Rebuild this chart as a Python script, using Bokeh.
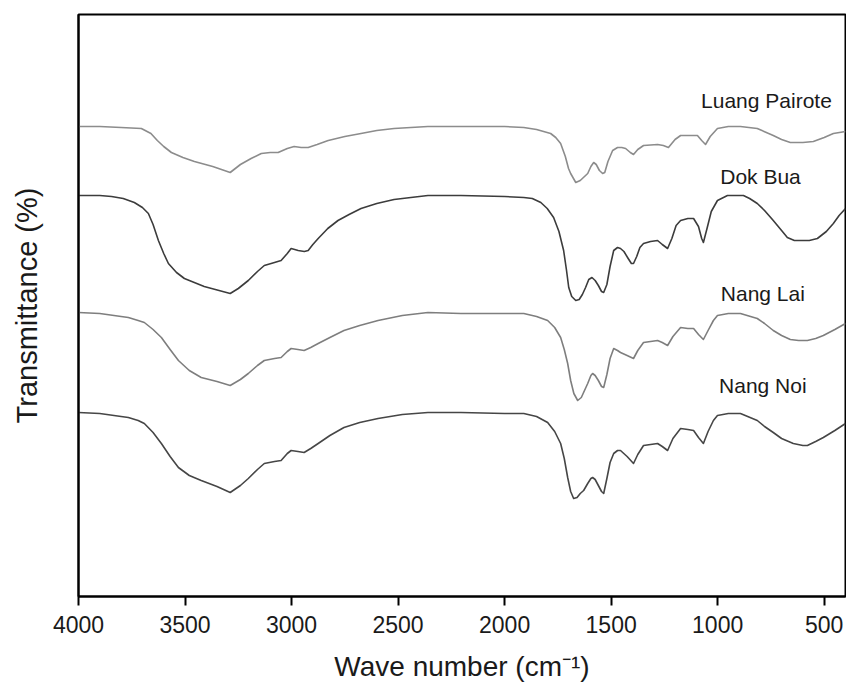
from bokeh.plotting import figure
from bokeh.models import Range1d, FixedTicker, ColumnDataSource
from bokeh.embed import file_html
from bokeh.resources import INLINE
from bokeh.core.properties import value

# Wave numbers (cm^-1) and transmittance (arbitrary units, curves offset)
lp_wn = [4000, 3900, 3800, 3705, 3660, 3630, 3600, 3564, 3510, 3456, 3370, 3288, 3240, 3190, 3142, 3100,
         3063, 3020, 2988, 2955, 2922, 2880, 2828, 2750, 2674, 2600, 2519, 2440, 2360, 2205, 2000, 1910,
         1850, 1784, 1760, 1737, 1715, 1700, 1690, 1666, 1645, 1625, 1610, 1595, 1582, 1570, 1555, 1540,
         1530, 1515, 1493, 1470, 1450, 1432, 1410, 1395, 1375, 1348, 1282, 1255, 1231, 1200, 1174, 1130,
         1095, 1075, 1057, 1035, 1001, 950, 893, 814, 739, 700, 659, 600, 551, 500, 457, 400]
lp_t = [470, 470, 469, 468, 463, 456, 450, 444, 439, 435, 430, 424, 432, 438, 443, 444,
        444, 448, 450, 449, 449, 452, 456, 460, 463, 466, 468, 469, 470, 470, 470, 469,
        467, 463, 459, 453, 440, 428, 423, 414, 416, 420, 423, 430, 434, 432, 426, 423,
        424, 435, 446, 449, 449, 448, 444, 442, 447, 451, 452, 451, 449, 457, 461, 461,
        461, 456, 452, 460, 468, 470, 470, 468, 461, 457, 454, 454, 455, 459, 463, 465]

db_wn = [4000, 3900, 3845, 3790, 3738, 3700, 3672, 3650, 3625, 3600, 3578, 3540, 3503, 3410, 3288, 3250,
         3203, 3160, 3128, 3080, 3049, 3020, 3002, 2985, 2969, 2940, 2922, 2900, 2875, 2830, 2782, 2730,
         2674, 2600, 2519, 2440, 2360, 2205, 2000, 1910, 1870, 1830, 1800, 1770, 1745, 1723, 1710, 1699,
         1685, 1666, 1650, 1635, 1620, 1605, 1590, 1575, 1560, 1545, 1535, 1520, 1505, 1488, 1470, 1456,
         1440, 1420, 1405, 1395, 1380, 1365, 1348, 1315, 1282, 1260, 1235, 1215, 1195, 1174, 1140, 1113,
         1090, 1075, 1067, 1050, 1030, 1001, 954, 879, 850, 814, 780, 739, 700, 673, 640, 612,
         570, 532, 490, 457, 430, 400]
db_t = [401, 401, 400, 398, 394, 389, 383, 372, 356, 343, 333, 324, 318, 310, 303, 308,
        316, 325, 331, 334, 336, 343, 348, 347, 346, 345, 346, 352, 358, 368, 376, 382,
        388, 393, 397, 399, 401, 401, 400, 399, 398, 394, 388, 379, 365, 346, 327, 309,
        300, 296, 297, 302, 309, 317, 319, 316, 311, 305, 304, 312, 330, 346, 349, 348,
        345, 338, 333, 333, 340, 349, 353, 355, 356, 352, 348, 358, 371, 376, 378, 378,
        370, 358, 354, 368, 385, 396, 401, 401, 398, 393, 386, 376, 366, 359, 356, 356,
        356, 358, 365, 373, 381, 388]

nl_wn = [4000, 3900, 3800, 3766, 3720, 3691, 3650, 3611, 3570, 3531, 3480, 3424, 3350, 3288, 3240, 3203,
         3160, 3128, 3080, 3049, 3020, 3002, 2970, 2941, 2910, 2875, 2820, 2754, 2680, 2594, 2480, 2360,
         2205, 2000, 1910, 1850, 1798, 1765, 1737, 1720, 1704, 1690, 1675, 1657, 1640, 1625, 1610, 1595,
         1587, 1575, 1560, 1545, 1535, 1520, 1505, 1488, 1470, 1456, 1425, 1395, 1375, 1348, 1315, 1282,
         1260, 1235, 1210, 1174, 1140, 1113, 1090, 1067, 1045, 1020, 1001, 950, 893, 814, 780, 739,
         700, 659, 620, 579, 540, 504, 450, 400]
nl_t = [284, 283, 280, 279, 276, 274, 267, 259, 247, 236, 226, 219, 215, 211, 217, 223,
        231, 236, 238, 239, 245, 248, 247, 246, 249, 253, 259, 266, 271, 276, 281, 284,
        283, 283, 283, 280, 276, 269, 259, 247, 233, 216, 203, 196, 199, 206, 213, 221,
        223, 221, 216, 210, 209, 222, 238, 248, 246, 244, 241, 238, 246, 254, 255, 256,
        254, 251, 260, 269, 268, 268, 262, 257, 266, 276, 281, 283, 283, 278, 273, 266,
        261, 257, 256, 256, 258, 261, 267, 273]

nn_wn = [4000, 3900, 3800, 3766, 3720, 3691, 3650, 3611, 3570, 3531, 3480, 3424, 3350, 3288, 3240, 3203,
         3160, 3128, 3080, 3049, 3020, 3002, 2970, 2941, 2910, 2875, 2820, 2754, 2680, 2594, 2480, 2360,
         2205, 2000, 1910, 1850, 1798, 1765, 1737, 1720, 1704, 1690, 1676, 1660, 1645, 1629, 1610, 1595,
         1587, 1575, 1560, 1545, 1535, 1520, 1505, 1488, 1470, 1456, 1425, 1395, 1375, 1348, 1315, 1282,
         1260, 1235, 1210, 1174, 1140, 1113, 1090, 1067, 1045, 1020, 1001, 950, 893, 814, 780, 739,
         700, 645, 600, 579, 540, 504, 450, 400]
nn_t = [184, 183, 180, 179, 176, 173, 164, 153, 140, 129, 121, 116, 110, 104, 111, 118,
        127, 133, 135, 136, 143, 146, 145, 144, 148, 153, 161, 169, 174, 178, 182, 184,
        184, 183, 183, 180, 174, 165, 153, 138, 119, 105, 98, 99, 103, 106, 113, 118,
        119, 117, 111, 105, 103, 118, 134, 143, 146, 146, 140, 133, 142, 151, 152, 153,
        150, 146, 158, 168, 167, 166, 159, 153, 165, 176, 181, 183, 183, 176, 170, 164,
        158, 153, 151, 151, 155, 159, 166, 173]

names = ["Luang Pairote", "Dok Bua", "Nang Lai", "Nang Noi"]
x_ticks = [4000, 3500, 3000, 2500, 2000, 1500, 1000, 500]

series = [(lp_wn, lp_t), (db_wn, db_t), (nl_wn, nl_t), (nn_wn, nn_t)]
colors = ["#8c8c8c", "#3c3c3c", "#7e7e7e", "#464646"]
label_x = [771, 799, 788, 788]
label_y = [496, 420, 303, 211]

FONT = "Liberation Sans"

p = figure(width=846, height=690, output_backend="svg", toolbar_location=None,
           x_range=Range1d(4000, 400), y_range=Range1d(0, 582),
           min_border_left=78, min_border_right=1, min_border_top=14, min_border_bottom=94)

for (wn, t), c in zip(series, colors):
    p.line(wn, t, line_color=c, line_width=1.6, line_join="round")

src = ColumnDataSource(dict(x=label_x, y=label_y, t=names))
p.text(x="x", y="y", text="t", source=src, text_font=value(FONT), text_font_size="21px",
       text_align="center", text_baseline="middle", text_color="#1a1a1a")

p.grid.visible = False
p.outline_line_color = "black"
p.outline_line_width = 2
p.background_fill_color = "white"
p.border_fill_color = "white"

xa = p.xaxis[0]
xa.ticker = FixedTicker(ticks=x_ticks)
xa.minor_tick_line_color = None
xa.major_tick_in = 0
xa.major_tick_out = 9
xa.major_tick_line_width = 2
xa.axis_line_width = 2
xa.major_label_standoff = 10
xa.major_label_text_font = FONT
xa.major_label_text_font_size = "23px"
xa.major_label_text_color = "#1a1a1a"
xa.axis_label = "Wave number (cm\u207b\u00b9)"
xa.axis_label_text_font = FONT
xa.axis_label_text_font_size = "28px"
xa.axis_label_text_font_style = "normal"
xa.axis_label_text_color = "#1a1a1a"
xa.axis_label_standoff = 15

ya = p.yaxis[0]
ya.ticker = FixedTicker(ticks=[])
ya.minor_tick_line_color = None
ya.major_tick_in = 0
ya.major_tick_out = 0
ya.axis_line_width = 2
ya.axis_label = "Transmittance (%)"
ya.axis_label_text_font = FONT
ya.axis_label_text_font_size = "29px"
ya.axis_label_text_font_style = "normal"
ya.axis_label_text_color = "#1a1a1a"
ya.axis_label_standoff = 36

open("out.html", "w").write(file_html(p, INLINE))
